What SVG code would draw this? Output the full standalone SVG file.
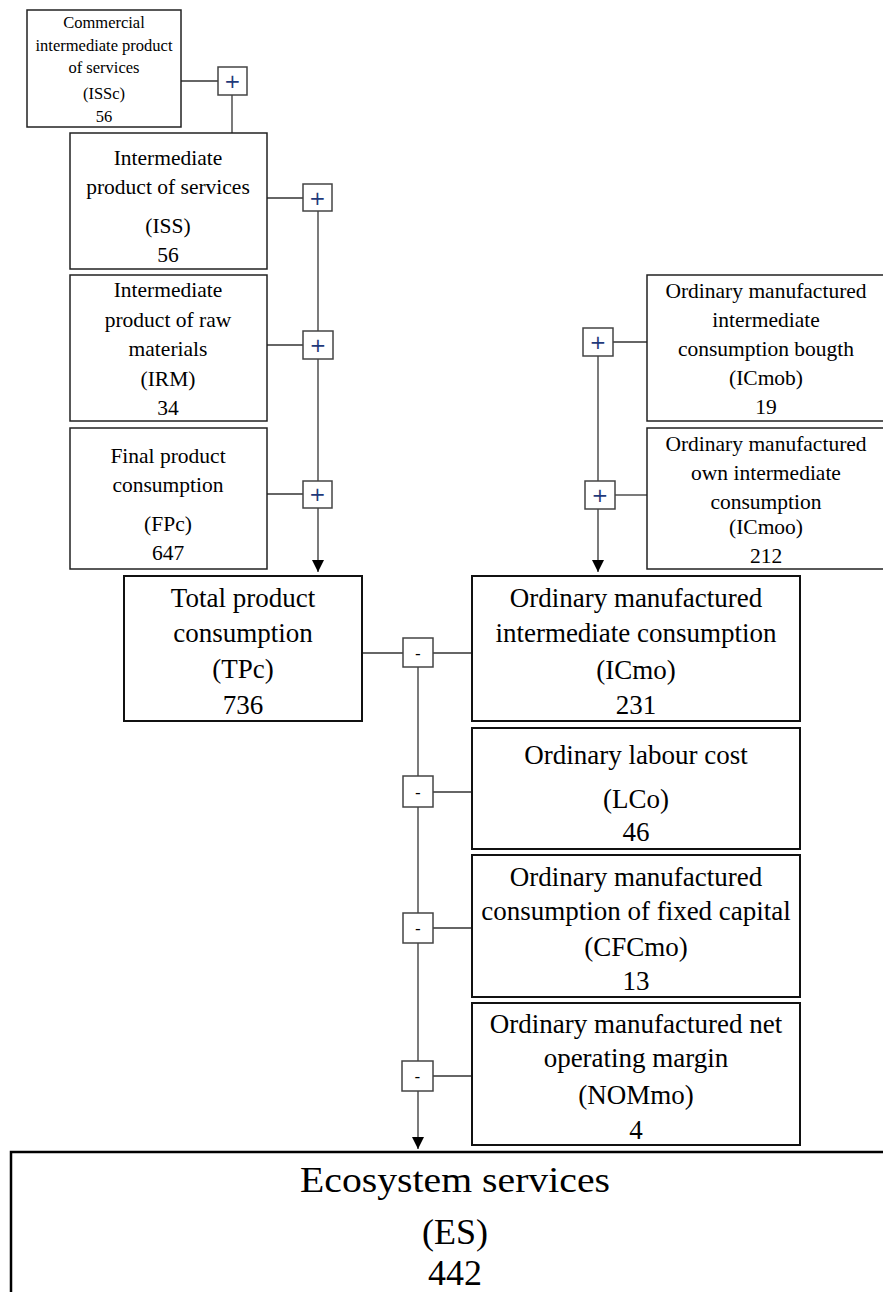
<svg xmlns="http://www.w3.org/2000/svg" width="883" height="1292" viewBox="0 0 883 1292">
<style>
.bx{fill:#fff;stroke:#222;stroke-width:1.5}
.bx2{fill:#fff;stroke:#111;stroke-width:2}
.op{fill:#fff;stroke:#444;stroke-width:1.5}
.ln{stroke:#333;stroke-width:1.3;fill:none}
text{font-family:"Liberation Serif","DejaVu Serif",serif;fill:#000;text-anchor:middle}
.s14{font-size:16.5px}
.s19{font-size:21.5px}
.s24{font-size:27px}
.s36{font-size:36px}
.pl{font-family:"DejaVu Sans",sans-serif;font-size:20px;fill:#1f3a7a}
.mi{font-family:"DejaVu Sans",sans-serif;font-size:16px}
</style>
<defs>
<marker id="ad" markerWidth="12" markerHeight="12" refX="5" refY="10" orient="0" markerUnits="userSpaceOnUse" viewBox="0 0 10 10">
<path d="M0,0 L10,0 L5,10 Z" fill="#000"/>
</marker>
</defs>

<g id="connectors">
<line class="ln" x1="181" y1="81" x2="218" y2="81"/>
<line class="ln" x1="232" y1="95" x2="232" y2="133"/>
<line class="ln" x1="267" y1="198" x2="303" y2="198"/>
<line class="ln" x1="267" y1="345" x2="303" y2="345"/>
<line class="ln" x1="267" y1="494" x2="303" y2="494"/>
<line class="ln" x1="318" y1="211" x2="318" y2="331"/>
<line class="ln" x1="318" y1="359" x2="318" y2="481"/>
<line class="ln" x1="318" y1="508" x2="318" y2="572" marker-end="url(#ad)"/>
<line class="ln" x1="613" y1="342" x2="647" y2="342"/>
<line class="ln" x1="615" y1="495" x2="647" y2="495"/>
<line class="ln" x1="598" y1="356" x2="598" y2="481"/>
<line class="ln" x1="598" y1="509" x2="598" y2="572" marker-end="url(#ad)"/>
<line class="ln" x1="362" y1="653" x2="403" y2="653"/>
<line class="ln" x1="433" y1="653" x2="472" y2="653"/>
<line class="ln" x1="433" y1="792" x2="472" y2="792"/>
<line class="ln" x1="433" y1="928" x2="472" y2="928"/>
<line class="ln" x1="433" y1="1076" x2="472" y2="1076"/>
<line class="ln" x1="418" y1="667" x2="418" y2="776"/>
<line class="ln" x1="418" y1="807" x2="418" y2="913"/>
<line class="ln" x1="418" y1="943" x2="418" y2="1061"/>
<line class="ln" x1="418" y1="1091" x2="418" y2="1149" marker-end="url(#ad)"/>
</g>

<g id="op-issc"><rect class="op" x="218" y="67" width="29" height="28"/><text class="pl" x="232.5" y="88">+</text></g>
<g id="op-iss"><rect class="op" x="303" y="184" width="29" height="27"/><text class="pl" x="317.5" y="205">+</text></g>
<g id="op-irm"><rect class="op" x="303" y="331" width="30" height="28"/><text class="pl" x="318" y="352">+</text></g>
<g id="op-fpc"><rect class="op" x="303" y="481" width="29" height="27"/><text class="pl" x="317.5" y="501">+</text></g>
<g id="op-icmob"><rect class="op" x="583" y="328" width="30" height="28"/><text class="pl" x="598" y="349">+</text></g>
<g id="op-icmoo"><rect class="op" x="585" y="481" width="30" height="28"/><text class="pl" x="600" y="502">+</text></g>
<g id="op-icmo"><rect class="op" x="403" y="638" width="30" height="29"/><text class="mi" x="418" y="659">-</text></g>
<g id="op-lco"><rect class="op" x="403" y="776" width="30" height="31"/><text class="mi" x="418" y="798">-</text></g>
<g id="op-cfcmo"><rect class="op" x="403" y="913" width="30" height="30"/><text class="mi" x="418" y="934">-</text></g>
<g id="op-nommo"><rect class="op" x="402" y="1061" width="31" height="30"/><text class="mi" x="417.5" y="1082">-</text></g>

<g id="issc"><rect class="bx" x="27" y="10" width="154" height="117"/>
<text class="s14" x="104" y="28">Commercial</text>
<text class="s14" x="104" y="51">intermediate product</text>
<text class="s14" x="104" y="73">of services</text>
<text class="s14" x="104" y="99">(ISSc)</text>
<text class="s14" x="104" y="122">56</text></g>

<g id="iss"><rect class="bx" x="70" y="133" width="197" height="136"/>
<text class="s19" x="168" y="165">Intermediate</text>
<text class="s19" x="168" y="194">product of services</text>
<text class="s19" x="168" y="233">(ISS)</text>
<text class="s19" x="168" y="262">56</text></g>

<g id="irm"><rect class="bx" x="70" y="275" width="197" height="146"/>
<text class="s19" x="168" y="297">Intermediate</text>
<text class="s19" x="168" y="327">product of raw</text>
<text class="s19" x="168" y="356">materials</text>
<text class="s19" x="168" y="386">(IRM)</text>
<text class="s19" x="168" y="415">34</text></g>

<g id="fpc"><rect class="bx" x="70" y="428" width="197" height="141"/>
<text class="s19" x="168" y="463">Final product</text>
<text class="s19" x="168" y="492">consumption</text>
<text class="s19" x="168" y="531">(FPc)</text>
<text class="s19" x="168" y="560">647</text></g>

<g id="icmob"><rect class="bx" x="647" y="275" width="240" height="146"/>
<text class="s19" x="766" y="298">Ordinary manufactured</text>
<text class="s19" x="766" y="327">intermediate</text>
<text class="s19" x="766" y="356">consumption bougth</text>
<text class="s19" x="766" y="385">(ICmob)</text>
<text class="s19" x="766" y="414">19</text></g>

<g id="icmoo"><rect class="bx" x="647" y="428" width="240" height="141"/>
<text class="s19" x="766" y="451">Ordinary manufactured</text>
<text class="s19" x="766" y="480">own intermediate</text>
<text class="s19" x="766" y="509">consumption</text>
<text class="s19" x="766" y="534">(ICmoo)</text>
<text class="s19" x="766" y="563">212</text></g>

<g id="tpc"><rect class="bx2" x="124" y="576" width="238" height="145"/>
<text class="s24" x="243" y="607">Total product</text>
<text class="s24" x="243" y="642">consumption</text>
<text class="s24" x="243" y="678">(TPc)</text>
<text class="s24" x="243" y="714">736</text></g>

<g id="icmo"><rect class="bx2" x="472" y="576" width="328" height="145"/>
<text class="s24" x="636" y="607">Ordinary manufactured</text>
<text class="s24" x="636" y="642">intermediate consumption</text>
<text class="s24" x="636" y="679">(ICmo)</text>
<text class="s24" x="636" y="714">231</text></g>

<g id="lco"><rect class="bx2" x="472" y="728" width="328" height="121"/>
<text class="s24" x="636" y="764">Ordinary labour cost</text>
<text class="s24" x="636" y="808">(LCo)</text>
<text class="s24" x="636" y="841">46</text></g>

<g id="cfcmo"><rect class="bx2" x="472" y="855" width="328" height="142"/>
<text class="s24" x="636" y="886">Ordinary manufactured</text>
<text class="s24" x="636" y="920">consumption of fixed capital</text>
<text class="s24" x="636" y="956">(CFCmo)</text>
<text class="s24" x="636" y="990">13</text></g>

<g id="nommo"><rect class="bx2" x="472" y="1003" width="328" height="142"/>
<text class="s24" x="636" y="1033">Ordinary manufactured net</text>
<text class="s24" x="636" y="1067">operating margin</text>
<text class="s24" x="636" y="1104">(NOMmo)</text>
<text class="s24" x="636" y="1139">4</text></g>

<g id="es"><rect x="11" y="1152" width="900" height="160" fill="#fff" stroke="#000" stroke-width="2.5"/>
<text class="s36" x="455" y="1192" textLength="310" lengthAdjust="spacingAndGlyphs">Ecosystem services</text>
<text class="s36" x="455" y="1244">(ES)</text>
<text class="s36" x="455" y="1285">442</text></g>
</svg>
